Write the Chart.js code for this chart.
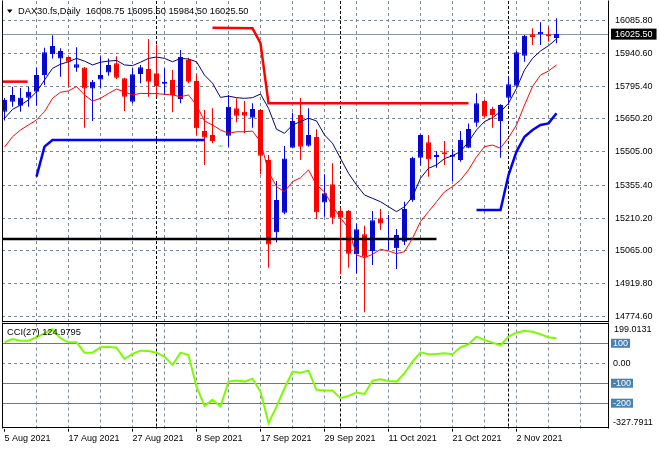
<!DOCTYPE html>
<html lang="en">
<head>
  <meta charset="UTF-8">
  <title>DAX30.fs Daily</title>
  <script src="https://cdn.jsdelivr.net/npm/chart.js"></script>
  <style>
    html, body { margin: 0; padding: 0; background: #fff; }
    #wrap { position: relative; width: 660px; height: 450px; overflow: hidden; }
    #priceChart { position: absolute; left: 0; top: 0; }
    #cciChart { position: absolute; left: 0; top: 322px; }
  </style>
</head>
<body>
  <div id="wrap">
    <canvas id="priceChart" width="660" height="322"></canvas>
    <canvas id="cciChart" width="660" height="128"></canvas>
  </div>

  <script>
    // ---- data (one entry per daily bar) ----
    const symbol = "DAX30.fs";
    const period = "Daily";

    const opens = [15682,15726,15708,15744,15770,15844,15936,15918,15924,15877,
      15878,15785,15825,15856,15896,15830,15726,15849,15871,15852,
      15806,15822,15738,15911,15818,15596,15579,15528,15575,15697,
      15682,15655,15689,15468,15148,15234,15522,15667,15531,15570,
      15280,15360,15242,15242,15050,15139,15065,15210,15116,15077,
      15106,15289,15478,15546,15481,15502,15482,15468,15522,15633,
      15729,15694,15641,15744,15797,15930,16025,16025,16025,16008.75];
    const highs = [15743,15792,15787,15792,15877,15965,16021,15963,15926,15967,
      15880,15822,15928,15918,15928,15832,15874,15889,16004,15980,
      15874,15867,15955,15921,15848,15689,15697,15528,15756,15741,
      15729,15719,15694,15490,15375,15530,15677,15744,15697,15604,
      15405,15453,15257,15246,15187,15177,15242,15251,15224,15162,
      15283,15482,15582,15579,15508,15552,15517,15596,15630,15763,
      15734,15704,15715,15837,15951,16022,16051,16078,16058,16095.5];
    const lows = [15643,15704,15682,15704,15708,15800,15918,15837,15793,15859,
      15611,15641,15785,15841,15827,15685,15719,15808,15748,15748,
      15756,15679,15719,15808,15579,15446,15542,15528,15527,15635,
      15586,15611,15405,14991,15103,15227,15520,15468,15527,15206,
      15217,15183,14962,14991,14966,14793,15003,15158,15069,14985,
      15091,15283,15443,15394,15434,15446,15375,15460,15520,15615,
      15657,15611,15478,15711,15793,15903,15977,15977,15992,15984.5];
    const closes = [15734,15756,15744,15770,15844,15945,15973,15951,15903,15892,
      15785,15815,15844,15889,15832,15748,15848,15879,15815,15796,
      15815,15756,15924,15815,15608,15567,15552,15528,15704,15664,
      15664,15694,15487,15094,15291,15475,15641,15527,15579,15236,
      15320,15212,15212,15053,15161,15039,15201,15186,15120,15136,
      15251,15478,15579,15471,15490,15493,15490,15556,15605,15719,
      15660,15667,15711,15803,15945,16018,16013,16036,16016,16025.5];

    // moving averages (navy = fast, red = slow)
    const maFast = [15652,15692,15711,15734,15770,15822,15874,15892,15903,15918,
      15906,15889,15901,15906,15909,15889,15886,15901,15918,15924,
      15918,15903,15918,15915,15903,15844,15808,15745,15751,15744,
      15741,15744,15760,15697,15604,15586,15623,15638,15653,15641,
      15579,15542,15475,15409,15357,15313,15298,15283,15261,15239,
      15261,15305,15387,15431,15446,15474,15487,15505,15549,15601,
      15638,15655,15682,15719,15785,15867,15918,15951,15974,16004];
    const maSlow = [15525,15571,15601,15623,15645,15682,15741,15768,15774,15793,
      15756,15729,15741,15763,15782,15770,15756,15763,15762,15762,
      15759,15756,15748,15756,15711,15641,15623,15601,15586,15593,
      15593,15596,15549,15416,15350,15327,15372,15389,15424,15357,
      15327,15264,15212,15165,15047,15035,15050,15072,15065,15053,
      15062,15121,15195,15239,15283,15327,15350,15379,15424,15482,
      15527,15534,15520,15567,15623,15711,15793,15844,15862,15889];

    // CCI(27)
    const cci = [105,121.5,113,113,130,150,170,125,105,105,
      53,53,80,83,78,21.5,46.5,63,61.5,53,
      33,-8.5,53,41.5,-117,-213.5,-183.5,-217,-92,-87,
      -92,-77,-142,-300,-217,-125,-42,-47,-37,-133.5,
      -137,-137,-175,-163.5,-147,-153.5,-87,-80,-88.5,-92,
      -50,8,55,45,46.5,50,45,80,95,133,
      116.5,103,90,133,153,163,158,145,130,124.9795];
    const cciMax = 199.0131;
    const cciMin = -327.7911;
    const cciLevels = [-200, -100, 0, 100];

    // level / step lines drawn on the price panel
    const redLevelABars = [-0.2, 2.9];
    const redLevelAVals = [15815, 15815];
    const redLevelBBars = [26, 31, 32, 33, 58];
    const redLevelBVals = [16054, 16051, 15986, 15719, 15719];
    const blueLevelABars = [4, 5, 6, 25];
    const blueLevelAVals = [15394, 15527, 15556, 15556];
    const blueLevelBBars = [59, 62, 63, 64, 65, 66, 67, 68, 69];
    const blueLevelBVals = [15246, 15246, 15401, 15505, 15571, 15601, 15623, 15630, 15675];
    const blackLineBars = [-0.3, 54];
    const blackLineVals = [15118, 15118];

    // axes
    const priceTicks = [14774.6, 14919.8, 15065.0, 15210.2, 15355.4, 15505.0, 15650.2, 15795.4, 15940.6, 16085.8];
    const dateLabels = ["5 Aug 2021", "17 Aug 2021", "27 Aug 2021", "8 Sep 2021", "17 Sep 2021",
      "29 Sep 2021", "11 Oct 2021", "21 Oct 2021", "2 Nov 2021"];
    const dateLabelBars = [0, 8, 16, 24, 32, 40, 48, 56, 64];
    const separatorBars = [19, 42, 63]; // month separators

    // ---- styling ----
    const FONT = '"Liberation Sans", Arial, sans-serif';
    const GRID = "#7a8794";
    const LEVEL = "#4682b4";
    const BULL_FILL = "#10108e", BULL_EDGE = "#0000ff";
    const BEAR = "#ff0000", DOJI = "#00e000";

    const last = closes.length - 1;
    const lastClose = closes[last];
    const barIndex = opens.map((_, i) => i);
    const xMin = -0.3125, xMax = 75.4375;

    const pts = (xs, ys) => xs.map((x, i) => ({ x: x, y: ys[i] }));

    const gridBars = [];
    for (let b = 0; b <= 72; b += 4) gridBars.push(b);
    const xTickValues = gridBars.concat(separatorBars).sort((a, b) => a - b);

    const isSep = ctx => ctx.tick && separatorBars.includes(ctx.tick.value);
    const xGridColor = ctx => {
      if (!ctx.tick || ctx.tick.value === 0) return "rgba(0,0,0,0)";
      return isSep(ctx) ? "#000" : GRID;
    };
    const xGridDash = ctx => isSep(ctx) ? [3, 2] : [3, 3];

    const candleColor = i => closes[i] > opens[i] ? "bull" : closes[i] < opens[i] ? "bear" : "doji";
    const bodyFill = barIndex.map(i => ({ bull: BULL_FILL, bear: BEAR, doji: DOJI })[candleColor(i)]);
    const bodyEdge = barIndex.map(i => ({ bull: BULL_EDGE, bear: BEAR, doji: DOJI })[candleColor(i)]);
    const wickColor = barIndex.map(i => ({ bull: "#0000ff", bear: BEAR, doji: DOJI })[candleColor(i)]);

    function lineSet(data, color, width, order) {
      return { type: "line", data: data, borderColor: color, borderWidth: width,
        pointRadius: 0, fill: false, tension: 0, order: order };
    }

    function makeFrame(sides) {
      return {
        id: "frame",
        afterDraw(chart) {
          const { ctx, chartArea: a } = chart;
          const l = Math.floor(a.left) + 0.5, r = Math.floor(a.right) + 0.5;
          const t = Math.floor(a.top) + 0.5, b = Math.floor(a.bottom) - 0.5;
          ctx.save();
          ctx.strokeStyle = "#000";
          ctx.lineWidth = 1;
          ctx.beginPath();
          if (sides.includes("l")) { ctx.moveTo(l, t - 1); ctx.lineTo(l, b + 1); }
          if (sides.includes("r")) { ctx.moveTo(r, t - 1); ctx.lineTo(r, b + 1); }
          if (sides.includes("t")) { ctx.moveTo(l, t); ctx.lineTo(r, t); }
          if (sides.includes("b")) { ctx.moveTo(l, b); ctx.lineTo(r, b); }
          ctx.stroke();
          ctx.restore();
        }
      };
    }

    const priceHeader = {
      id: "priceHeader",
      afterDraw(chart) {
        const ctx = chart.ctx;
        ctx.save();
        ctx.fillStyle = "#000";
        ctx.beginPath();
        ctx.moveTo(7, 9.5); ctx.lineTo(12.5, 9.5); ctx.lineTo(9.75, 13);
        ctx.closePath();
        ctx.fill();
        ctx.font = "9.3px " + FONT;
        ctx.textBaseline = "alphabetic";
        const ohlc = [opens[last], highs[last], lows[last], closes[last]].map(v => v.toFixed(2)).join(" ");
        ctx.fillText(symbol + "," + period + "  " + ohlc, 18, 14);
        ctx.restore();
      }
    };

    const cciHeader = {
      id: "cciHeader",
      afterDraw(chart) {
        const { ctx, chartArea: a } = chart;
        ctx.save();
        ctx.fillStyle = "#000";
        ctx.font = "9.3px " + FONT;
        ctx.textBaseline = "alphabetic";
        ctx.fillText("CCI(27) " + cci[last].toFixed(4), 7, 13);
        ctx.font = "9px " + FONT;
        ctx.textBaseline = "middle";
        ctx.fillText(cciMax.toFixed(4), a.right + 6, a.top + 6);
        ctx.fillText(cciMin.toFixed(4), a.right + 5, a.bottom - 6);
        ctx.restore();
      }
    };

    // ---- price panel ----
    new Chart(document.getElementById("priceChart"), {
      type: "bar",
      data: {
        datasets: [
          lineSet(pts(barIndex, maFast), "#000080", 1, 1),
          lineSet(pts(barIndex, maSlow), "#ff0000", 1, 2),
          lineSet(pts(redLevelABars, redLevelAVals), "#ff0000", 2.5, 3),
          lineSet(pts(redLevelBBars, redLevelBVals), "#ff0000", 2.5, 3),
          lineSet(pts(blueLevelABars, blueLevelAVals), "#0000ff", 2.5, 3),
          lineSet(pts(blueLevelBBars, blueLevelBVals), "#0000ff", 2.5, 3),
          lineSet(pts(blackLineBars, blackLineVals), "#000000", 2.5, 4),
          {
            type: "bar",
            data: barIndex.map(i => ({ x: i, y: [opens[i], closes[i]] })),
            backgroundColor: bodyFill,
            borderColor: bodyEdge,
            borderWidth: 1,
            borderSkipped: false,
            barThickness: 5,
            minBarLength: 1,
            inflateAmount: 0,
            grouped: false,
            order: 10
          },
          {
            type: "bar",
            data: barIndex.map(i => ({ x: i, y: [lows[i], highs[i]] })),
            backgroundColor: wickColor,
            borderWidth: 0,
            barThickness: 1,
            minBarLength: 1,
            inflateAmount: 0,
            grouped: false,
            order: 11
          }
        ]
      },
      options: {
        responsive: false,
        animation: false,
        layout: { padding: { left: 2, top: 1, right: 0, bottom: 0 } },
        plugins: { legend: { display: false }, tooltip: { enabled: false } },
        scales: {
          x: {
            type: "linear",
            offset: false,
            min: xMin,
            max: xMax,
            afterBuildTicks: s => { s.ticks = xTickValues.map(v => ({ value: v })); },
            afterFit: s => { s.height = 0; s.paddingLeft = 0; s.paddingRight = 0; },
            ticks: { display: false },
            grid: { offset: false, drawTicks: false, color: xGridColor, lineWidth: 1 },
            border: { display: false, dash: xGridDash }
          },
          y: {
            position: "right",
            min: 14750.2,
            max: 16172.2,
            afterBuildTicks: s => {
              s.ticks = priceTicks.concat([lastClose]).sort((a, b) => a - b).map(v => ({ value: v }));
            },
            afterFit: s => { s.width = 52; s.paddingTop = 0; s.paddingBottom = 0; },
            ticks: {
              autoSkip: false,
              padding: 7,
              font: { family: FONT, size: 9, lineHeight: 1 },
              color: ctx => ctx.tick && ctx.tick.value === lastClose ? "#fff" : "#000",
              callback: v => Number(v).toFixed(2),
              showLabelBackdrop: true,
              backdropColor: ctx => ctx.tick && ctx.tick.value === lastClose ? "#000" : "rgba(0,0,0,0)",
              backdropPadding: { left: 4, right: 4, top: 1, bottom: 1 }
            },
            grid: {
              drawTicks: false,
              color: ctx => ctx.tick && ctx.tick.value === lastClose ? "#8a95a0" : GRID
            },
            border: { display: false, dash: ctx => ctx.tick && ctx.tick.value === lastClose ? [] : [3, 3] }
          }
        }
      },
      plugins: [makeFrame("lrb"), priceHeader]
    });

    // ---- CCI panel ----
    new Chart(document.getElementById("cciChart"), {
      type: "line",
      data: {
        datasets: [lineSet(pts(barIndex, cci), "#7cfc00", 2, 1)]
      },
      options: {
        responsive: false,
        animation: false,
        layout: { padding: { left: 2, top: 1.5, right: 0, bottom: 0 } },
        plugins: { legend: { display: false }, tooltip: { enabled: false } },
        scales: {
          x: {
            type: "linear",
            offset: false,
            min: xMin,
            max: xMax,
            afterBuildTicks: s => { s.ticks = xTickValues.map(v => ({ value: v })); },
            afterFit: s => { s.height = 21.3; s.paddingLeft = 0; s.paddingRight = 0; },
            ticks: {
              autoSkip: false,
              maxRotation: 0,
              minRotation: 0,
              align: "start",
              padding: 1,
              color: "#000",
              font: { family: FONT, size: 9 },
              callback: v => {
                const k = dateLabelBars.indexOf(v);
                return k >= 0 ? dateLabels[k] : "";
              }
            },
            grid: {
              offset: false,
              drawTicks: true,
              tickLength: 3,
              tickColor: ctx => ctx.tick && dateLabelBars.includes(ctx.tick.value) ? "#000" : "rgba(0,0,0,0)",
              color: xGridColor
            },
            border: { display: false, dash: xGridDash }
          },
          y: {
            position: "right",
            min: cciMin,
            max: cciMax,
            afterBuildTicks: s => { s.ticks = cciLevels.map(v => ({ value: v })); },
            afterFit: s => { s.width = 52; s.paddingTop = 0; s.paddingBottom = 0; },
            ticks: {
              autoSkip: false,
              padding: 5,
              font: { family: FONT, size: 9, lineHeight: 1 },
              color: ctx => ctx.tick && ctx.tick.value === 0 ? "#000" : "#fff",
              callback: v => v === 0 ? "0.00" : String(v),
              showLabelBackdrop: true,
              backdropColor: ctx => ctx.tick && ctx.tick.value === 0 ? "rgba(0,0,0,0)" : LEVEL,
              backdropPadding: { left: 2, right: 2, top: 0, bottom: 0 }
            },
            grid: {
              drawTicks: false,
              color: ctx => ctx.tick && ctx.tick.value === 0 ? GRID : LEVEL
            },
            border: { display: false, dash: ctx => ctx.tick && ctx.tick.value === 0 ? [3, 3] : [] }
          }
        }
      },
      plugins: [makeFrame("lrtb"), cciHeader]
    });
  </script>
</body>
</html>
